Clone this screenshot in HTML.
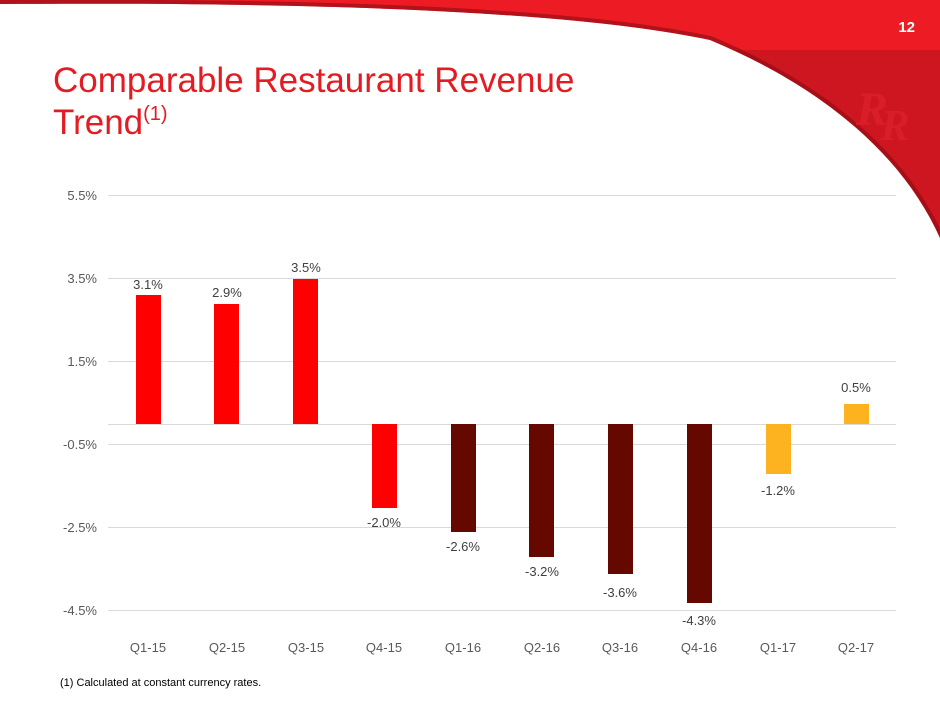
<!DOCTYPE html>
<html><head><meta charset="utf-8"><style>
body{margin:0;width:940px;height:705px;overflow:hidden;background:#fff;font-family:"Liberation Sans",sans-serif}
</style></head><body>
<svg width="940" height="705" xmlns="http://www.w3.org/2000/svg" style="position:absolute;left:0;top:0">
<defs>
<clipPath id="cp"><path d="M0,0 H940 V238 C905,160 830,90 710,40 C570,10 300,2 0,4 Z"/></clipPath>
</defs>
<g clip-path="url(#cp)">
<rect x="0" y="0" width="940" height="50" fill="#ED1C24"/>
<rect x="0" y="50" width="940" height="200" fill="#CE1620"/>
<path d="M0,4 C300,2 570,10 710,40 C830,90 905,160 940,238" fill="none" stroke="#8a0c12" stroke-width="8" opacity="0.6"/>
<text x="872" y="125" font-family="Liberation Serif,serif" font-style="italic" font-weight="bold" font-size="48" fill="#DA1E28" text-anchor="middle">R</text>
<text x="895" y="140" font-family="Liberation Serif,serif" font-style="italic" font-weight="bold" font-size="44" fill="#DA1E28" text-anchor="middle">R</text>
</g>
<text x="915" y="32" font-weight="bold" font-size="15" fill="#fff" text-anchor="end">12</text>
<text x="53" y="92" font-size="35" fill="#E31B23">Comparable Restaurant Revenue</text>
<text x="53" y="134" font-size="35" fill="#E31B23">Trend<tspan font-size="20" dy="-14">(1)</tspan></text>
<g stroke="#d9d9d9" stroke-width="1">
<line x1="108" x2="896" y1="195.5" y2="195.5"/>
<line x1="108" x2="896" y1="278.5" y2="278.5"/>
<line x1="108" x2="896" y1="361.5" y2="361.5"/>
<line x1="108" x2="896" y1="424.5" y2="424.5"/>
<line x1="108" x2="896" y1="444.5" y2="444.5"/>
<line x1="108" x2="896" y1="527.5" y2="527.5"/>
<line x1="108" x2="896" y1="610.5" y2="610.5"/>
</g>
<g font-size="13" fill="#595959" text-anchor="end">
<text x="97" y="200">5.5%</text><text x="97" y="283">3.5%</text><text x="97" y="366">1.5%</text>
<text x="97" y="449">-0.5%</text><text x="97" y="532">-2.5%</text><text x="97" y="615">-4.5%</text>
</g>
<g>
<rect x="136" y="295" width="25" height="129" fill="#FF0000"/>
<rect x="214" y="304" width="25" height="120" fill="#FF0000"/>
<rect x="293" y="279" width="25" height="145" fill="#FF0000"/>
<rect x="372" y="424" width="25" height="84" fill="#FF0000"/>
<rect x="451" y="424" width="25" height="108" fill="#650800"/>
<rect x="529" y="424" width="25" height="133" fill="#650800"/>
<rect x="608" y="424" width="25" height="150" fill="#650800"/>
<rect x="687" y="424" width="25" height="179" fill="#650800"/>
<rect x="766" y="424" width="25" height="50" fill="#FDB21F"/>
<rect x="844" y="404" width="25" height="20" fill="#FDB21F"/>
</g>
<g font-size="13" fill="#404040" text-anchor="middle">
<text x="148" y="289">3.1%</text><text x="227" y="297">2.9%</text><text x="306" y="272">3.5%</text>
<text x="384" y="527">-2.0%</text><text x="463" y="551">-2.6%</text><text x="542" y="576">-3.2%</text>
<text x="620" y="597">-3.6%</text><text x="699" y="625">-4.3%</text><text x="778" y="495">-1.2%</text><text x="856" y="392">0.5%</text>
</g>
<g font-size="13" fill="#595959" text-anchor="middle">
<text x="148" y="652">Q1-15</text><text x="227" y="652">Q2-15</text><text x="306" y="652">Q3-15</text>
<text x="384" y="652">Q4-15</text><text x="463" y="652">Q1-16</text><text x="542" y="652">Q2-16</text>
<text x="620" y="652">Q3-16</text><text x="699" y="652">Q4-16</text><text x="778" y="652">Q1-17</text><text x="856" y="652">Q2-17</text>
</g>
<text x="60" y="686" font-size="11" fill="#000">(1) Calculated at constant currency rates.</text>
</svg>
</body></html>
